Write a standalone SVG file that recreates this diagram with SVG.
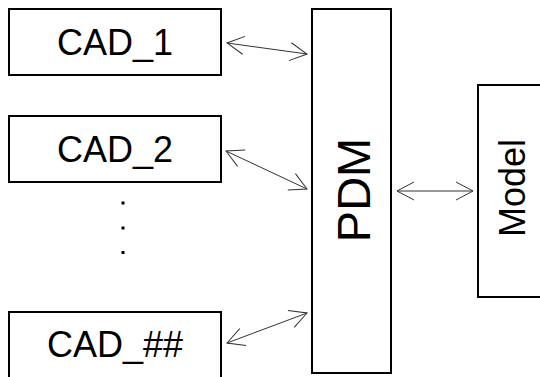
<svg xmlns="http://www.w3.org/2000/svg" width="540" height="377" viewBox="0 0 540 377">
  <defs>
    <style>
      .box { fill: #ffffff; stroke: #000000; stroke-width: 2; }
      .lbl { font-family: "Liberation Sans", Arial, sans-serif; fill: #000000; }
      .link { fill: none; stroke: #333333; stroke-width: 1; marker-start: url(#v); marker-end: url(#v); }
    </style>
    <marker id="v" markerUnits="userSpaceOnUse" markerWidth="24" markerHeight="24" viewBox="-20 -12 24 24" refX="0" refY="0" orient="auto-start-reverse">
      <path d="M-17,-9 L0,0 L-17,9" fill="none" stroke="#333333" stroke-width="1"/>
    </marker>
  </defs>
  <rect width="540" height="377" fill="#ffffff"/>

  <g id="cad1">
    <rect class="box" x="9" y="9" width="212" height="66"/>
    <text class="lbl" x="115" y="55" font-size="36" text-anchor="middle">CAD_1</text>
  </g>
  <g id="cad2">
    <rect class="box" x="9" y="116" width="212" height="66"/>
    <text class="lbl" x="115" y="162" font-size="36" text-anchor="middle">CAD_2</text>
  </g>
  <g id="ellipsis">
    <rect x="121.5" y="201.5" width="3" height="3" fill="#000000"/>
    <rect x="121.5" y="226.5" width="3" height="3" fill="#000000"/>
    <rect x="121.5" y="251" width="3" height="3" fill="#000000"/>
  </g>
  <g id="cadnn">
    <rect class="box" x="9" y="312" width="212" height="70"/>
    <text class="lbl" x="115" y="357" font-size="36" text-anchor="middle">CAD_##</text>
  </g>
  <g id="pdm">
    <rect class="box" x="312" y="9" width="79" height="364"/>
    <text class="lbl" font-size="47" text-anchor="middle" transform="translate(370 190) rotate(-90)">PDM</text>
  </g>
  <g id="model">
    <rect class="box" x="478" y="85" width="70" height="212"/>
    <text class="lbl" font-size="36" text-anchor="middle" transform="translate(525 188) rotate(-90)">Model</text>
  </g>

  <g id="connectors">
    <line class="link" x1="227" y1="43" x2="307" y2="54"/>
    <line class="link" x1="226" y1="151" x2="307" y2="189"/>
    <line class="link" x1="227" y1="343" x2="307" y2="313"/>
    <line class="link" x1="397" y1="191" x2="473" y2="191"/>
  </g>
</svg>
